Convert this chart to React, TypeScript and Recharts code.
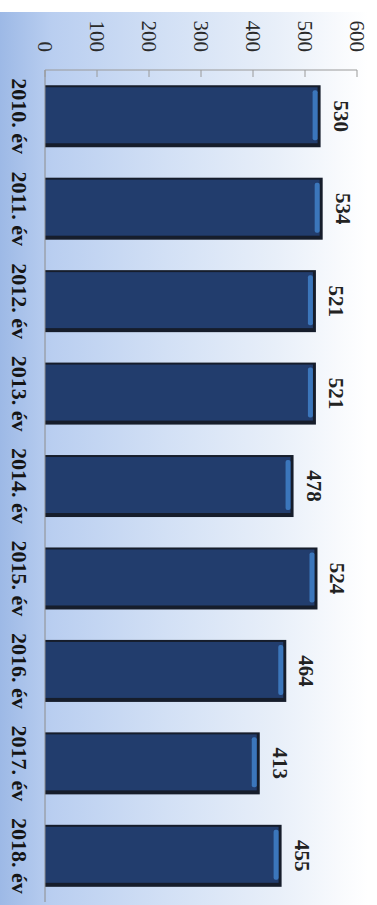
import React from "react";
import { BarChart, Bar, XAxis, YAxis, LabelList } from "recharts";

const years = [
  "2010. év",
  "2011. év",
  "2012. év",
  "2013. év",
  "2014. év",
  "2015. év",
  "2016. év",
  "2017. év",
  "2018. év",
];
const values = [530, 534, 521, 521, 478, 524, 464, 413, 455];
const valueTicks = [0, 100, 200, 300, 400, 500, 600];

const chartData = years.map((year, i) => ({ year, value: values[i] }));

const serif = "'Liberation Serif', 'Times New Roman', serif";

// bevelled navy column, like the old office chart style
const BevelBar = (props: any) => {
  const { x, y, width, height } = props;
  if (!height || height <= 0) return null;
  return (
    <g>
      <rect x={x} y={y} width={width} height={height} fill="#161d2b" />
      <rect
        x={x + 2}
        y={y + 3}
        width={width - 6}
        height={height - 3}
        fill="#223d6d"
      />
      <rect
        x={x + 5}
        y={y + 3}
        width={width - 12}
        height={5}
        rx={2}
        fill="#3b76bb"
      />
    </g>
  );
};

const App: React.FC = () => {
  return (
    <div
      style={{
        position: "absolute",
        left: 0,
        top: 0,
        width: 377,
        height: 905,
        overflow: "hidden",
        background: "#ffffff",
      }}
    >
      <div
        style={{
          position: "absolute",
          left: 0,
          top: 12,
          width: 368,
          height: 893,
          background:
            "linear-gradient(to right, #9db9e6 0%, #b9cef0 14%, #d2e0f5 45%, #e8eff9 75%, #f8fafd 92%, #ffffff 100%)",
        }}
      />
      <div
        style={{
          position: "absolute",
          left: 0,
          top: 0,
          width: 905,
          height: 377,
          transformOrigin: "0 0",
          transform: "translateX(377px) rotate(90deg)",
        }}
      >
        <BarChart
          width={905}
          height={377}
          data={chartData}
          margin={{ top: 20, right: 3, bottom: 5, left: 12 }}
          barCategoryGap="16.5%"
        >
          <XAxis
            dataKey="year"
            height={40}
            tickLine={false}
            tickSize={0}
            tickMargin={17}
            axisLine={{ stroke: "#8c8c8c" }}
            tick={{
              fill: "#151515",
              fontSize: 22,
              fontWeight: 700,
              fontFamily: serif,
            }}
            interval={0}
          />
          <YAxis
            width={58}
            domain={[0, 600]}
            ticks={valueTicks}
            tickSize={-7}
            tickMargin={25}
            axisLine={{ stroke: "#9a9a9a" }}
            tickLine={{ stroke: "#9a9a9a" }}
            tick={{ fill: "#2a2a2a", fontSize: 21, fontFamily: serif }}
          />
          <Bar
            dataKey="value"
            shape={<BevelBar />}
            isAnimationActive={false}
          >
            <LabelList
              dataKey="value"
              position="top"
              offset={13}
              fill="#222"
              fontSize={21}
              fontWeight={700}
              fontFamily={serif}
            />
          </Bar>
        </BarChart>
      </div>
    </div>
  );
};

export default App;
